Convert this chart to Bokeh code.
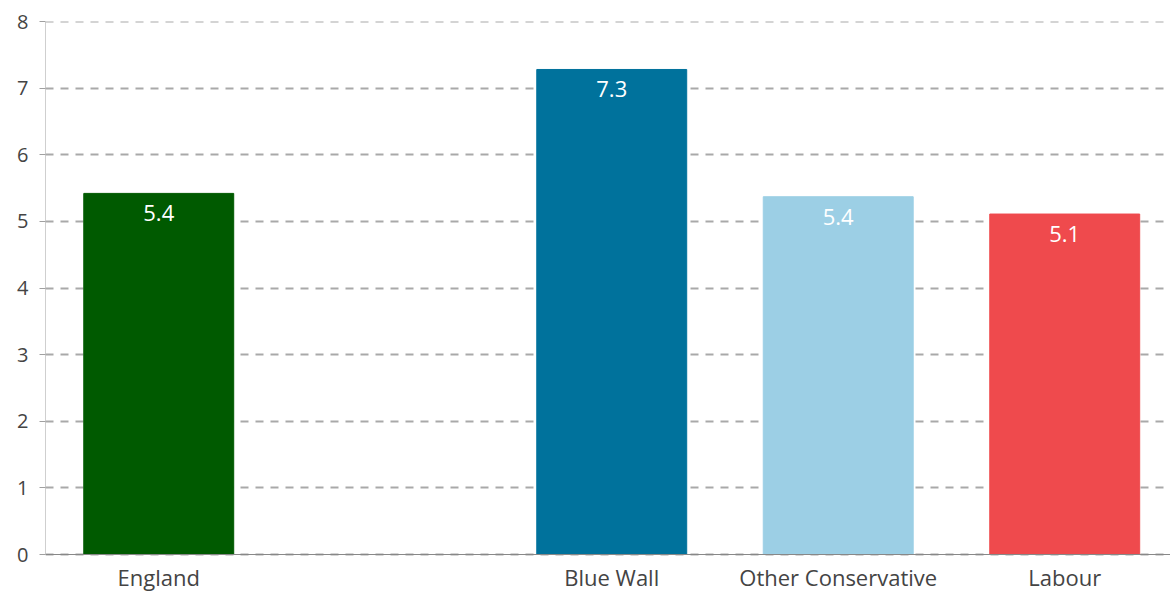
from bokeh.plotting import figure
from bokeh.models import ColumnDataSource, FixedTicker, Range1d, Span
from bokeh.embed import file_html
from bokeh.resources import INLINE
from bokeh.core.properties import value

categories = ["England", "", "Blue Wall", "Other Conservative", "Labour"]
values = [5.42, None, 7.28, 5.37, 5.11]
labels = ["5.4", "", "7.3", "5.4", "5.1"]
colors = ["#005a00", "#ffffff", "#00729c", "#9ccfe5", "#ef4a4d"]
y_ticks = list(range(0, 9))

FONT = "Open Sans"
GRID = "#a9a9a9"

# layout: value axis spans 533 px for 0..8; keep 38 px below zero for category labels
Y_MAX = 8
PX_PER_UNIT = 533 / Y_MAX
Y_MIN = -38 / PX_PER_UNIT
X_START, X_END = -0.5, 4.467

xs = [i for i, v in enumerate(values) if v is not None]
src = ColumnDataSource(dict(
    x=xs,
    top=[values[i] for i in xs],
    base=[0 for _ in xs],
    label=[labels[i] for i in xs],
    cat=[categories[i] for i in xs],
    color=[colors[i] for i in xs],
))

p = figure(width=1170, height=592, output_backend="svg", toolbar_location=None,
           x_range=Range1d(X_START, X_END), y_range=Range1d(Y_MIN, Y_MAX),
           min_border_left=45, min_border_right=0, min_border_top=21, min_border_bottom=0)
p.outline_line_color = None
p.background_fill_color = "white"

p.add_layout(Span(location=Y_MAX, dimension="width", line_color=GRID,
                  line_width=2, line_dash="8 7"))

p.xgrid.grid_line_color = None
p.ygrid.grid_line_color = GRID
p.ygrid.grid_line_width = 2
p.ygrid.grid_line_dash = "8 7"

p.vbar(x="x", top="top", width=0.662, color="color", source=src)
p.text(x="x", y="top", text="label", source=src, text_color="white",
       text_font=value(FONT), text_font_size="22px", text_align="center",
       text_baseline="alphabetic", y_offset=20)

# category labels below the zero line
p.text(x="x", y="base", text="cat", source=src, text_color="#444444",
       text_font=value(FONT), text_font_size="22px", text_align="center",
       text_baseline="alphabetic", y_offset=22)

# axis lines
p.add_layout(Span(location=0, dimension="width", line_color="#888888", line_width=1))
p.segment(x0=[X_START], y0=[0], x1=[X_START], y1=[Y_MAX], line_color="#a0a0a0", line_width=1)

p.xaxis.visible = False

p.yaxis.ticker = FixedTicker(ticks=y_ticks)
p.yaxis.axis_line_color = None
p.yaxis.major_tick_line_color = "#a0a0a0"
p.yaxis.major_tick_out = 6
p.yaxis.major_tick_in = 0
p.yaxis.minor_tick_line_color = None
p.yaxis.major_label_text_font = FONT
p.yaxis.major_label_text_font_size = "20px"
p.yaxis.major_label_text_color = "#444444"
p.yaxis.major_label_standoff = 11

open("out.html", "w").write(file_html(p, INLINE))
